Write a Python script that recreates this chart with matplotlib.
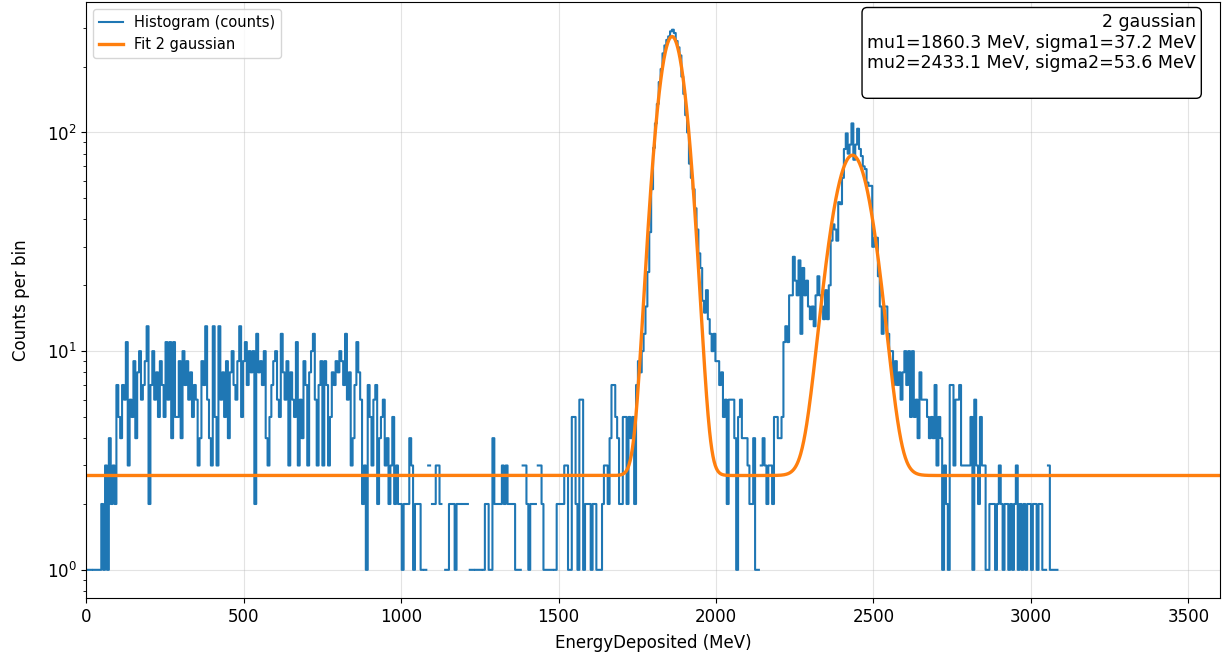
"""
Energy deposition spectrum with a two-gaussian fit.

Draws the per-bin counts as a step histogram on a log scale and overlays
the fitted model (flat background + two gaussian peaks).

Output:
    out.png
"""

import numpy as np
import matplotlib
matplotlib.use("Agg")
import matplotlib.pyplot as plt

OUT_PATH = "out.png"

# Histogram binning (MeV)
BIN_WIDTH = 6.0

# Counts per bin, split by energy region (0 = empty bin)
COUNTS_LOW = [
    1, 1, 1, 0, 1, 1, 1,
    1, 2, 1, 3, 1, 4, 2, 3, 2, 7, 5, 4, 7, 6, 11, 3, 6, 5, 9, 4,
    8, 10, 6, 7, 9, 13, 2, 7, 10, 6, 8, 5, 9, 7, 5, 11, 6, 11, 4, 11, 5,
    5, 9, 4, 10, 7, 9, 6, 8, 5, 7, 6, 3, 4, 9, 7, 13, 6, 4, 3, 13,
    5, 3, 13, 6, 8, 5, 9, 4, 8, 10, 7, 6, 9, 13, 5, 9, 11, 7, 10, 8,
    10, 2, 12, 8,
    9, 7, 10, 4, 3, 5, 7, 9, 10, 6, 5, 12, 8, 6, 9, 3, 8, 6, 5, 11,
    3, 6, 4, 9, 7, 3, 8, 10, 12, 6, 3, 7, 9, 3, 9, 7, 3, 5, 8, 7,
    9, 8, 10,
    9, 7, 12, 6, 8, 3, 4, 7, 11, 8, 6, 2, 3, 1, 7, 5, 3, 6, 7, 2,
    4, 5, 6, 3, 4, 2, 3, 5, 2, 3, 2, 2, 1, 2, 0, 2, 4, 3, 1, 2,
    0, 2, 1, 0,
]
COUNTS_GAP = [
    1, 0, 3, 0, 2, 2, 3, 3, 2, 0, 0, 1, 1, 2, 2, 2, 1, 2, 2, 0,
    2, 0, 2, 0, 1, 1, 0, 1, 1, 1, 0, 1, 2, 2, 1, 1, 4, 2, 2, 0,
    2, 3, 2,
    3, 2, 2, 2, 2, 1, 1, 1, 0, 3, 3, 2, 1, 2, 2, 2, 0, 3, 3, 2,
    1, 1, 1, 1, 1, 0, 1, 2, 2, 2, 2, 3, 3, 1, 1, 5, 5, 2, 1, 6,
    6, 1, 2, 2,
]
COUNTS_PEAK1 = [
    2, 1, 2, 2, 1, 1, 1, 2, 3, 3, 2, 4, 7, 7, 5, 4, 2, 2, 5, 5,
    2, 5, 4, 5, 2, 7, 9, 8, 10, 12, 16, 23, 35, 55, 85, 110, 135, 170, 195, 230,
    250, 265,
    275, 290, 295, 285, 262, 245, 225, 180, 150, 120,
    100, 72, 62, 55, 45, 36, 28, 24, 17, 15,
    19, 14, 12, 10, 12, 9, 9, 7, 8, 5, 6, 2, 6, 6, 6, 4, 1, 5, 6, 4,
    4, 4,
]
COUNTS_PEAK2 = [
    3, 2, 2, 4, 1, 1, 0, 3, 4, 3, 2, 3, 3, 2, 5, 5, 4, 4, 5, 11,
    13, 11, 18, 18, 27, 21, 18, 26, 12, 24, 18, 21, 16, 14, 16, 13, 18, 22, 18, 16,
    14, 19, 14, 20,
    32, 38, 36, 32, 48, 47, 62, 84, 99, 80, 88, 110, 75, 88, 104, 84, 78, 70, 68, 59,
    57, 57, 30, 33, 33, 22, 16, 12, 16, 16, 12, 10, 10, 7, 9, 7, 8, 6, 8, 10,
    7, 10, 5,
]
COUNTS_TAIL = [
    10, 5, 6, 4, 8, 6, 6, 6, 5, 4, 5, 4, 7, 3, 5, 4, 1, 3, 2, 1,
    7, 7, 3, 6, 6, 7, 3, 3, 3, 3, 3, 5, 1, 6, 3, 2, 5, 3, 3, 1,
    1, 2, 2,
    2, 1, 2, 3, 2, 1, 2, 2, 1, 2, 1, 2, 3, 1, 2, 1, 2, 1, 2, 2,
    1, 2, 2, 1, 2, 2, 1, 1, 0, 3, 1, 1, 1, 1,
]

# Fit result: flat background + two gaussians
FIT_BACKGROUND = 2.7
FIT_AMPLITUDES = [272.0, 76.0]
FIT_MEANS = [1860.3, 2433.1]
FIT_SIGMAS = [37.2, 53.6]

X_RANGE = (0, 3600)


def two_gaussian(x: np.ndarray) -> np.ndarray:
    """Evaluate the fitted model at x (MeV)."""
    y = np.full_like(x, FIT_BACKGROUND, dtype=float)
    for amp, mu, sigma in zip(FIT_AMPLITUDES, FIT_MEANS, FIT_SIGMAS):
        y += amp * np.exp(-0.5 * ((x - mu) / sigma) ** 2)
    return y


def plot_spectrum(out_path: str) -> None:
    counts = np.array(COUNTS_LOW + COUNTS_GAP + COUNTS_PEAK1 + COUNTS_PEAK2 + COUNTS_TAIL,
                      dtype=float)
    edges = np.arange(len(counts) + 1) * BIN_WIDTH

    # Empty bins can't be shown on a log axis -> leave gaps
    counts[counts <= 0] = np.nan
    y_step = np.append(counts, counts[-1])

    fig, ax = plt.subplots(figsize=(12.31, 6.62), dpi=100)

    ax.step(edges, y_step, where="post", color="#1f77b4", lw=1.5,
            label="Histogram (counts)")

    x_fit = np.linspace(X_RANGE[0], X_RANGE[1], 3000)
    ax.plot(x_fit, two_gaussian(x_fit), color="#ff7f0e", lw=2.4,
            label="Fit 2 gaussian")

    ax.set_yscale("log")
    ax.set_xlim(*X_RANGE)
    ax.set_ylim(0.745, 395)
    ax.set_xlabel("EnergyDeposited (MeV)", fontsize=12, labelpad=6)
    ax.set_ylabel("Counts per bin", fontsize=12, labelpad=12)
    ax.tick_params(axis="both", which="major", labelsize=12)
    ax.grid(True, which="major", color="#b0b0b0", alpha=0.35, lw=0.8)

    ax.legend(loc="upper left", fontsize=10.5, handlelength=1.6)

    # trailing newline leaves a blank row at the bottom of the box
    info = (
        "2 gaussian\n"
        f"mu1={FIT_MEANS[0]:.1f} MeV, sigma1={FIT_SIGMAS[0]:.1f} MeV\n"
        f"mu2={FIT_MEANS[1]:.1f} MeV, sigma2={FIT_SIGMAS[1]:.1f} MeV\n"
    )
    ax.text(0.979, 0.982, info, transform=ax.transAxes, ha="right", va="top",
            multialignment="right", fontsize=12.5,
            bbox=dict(boxstyle="round,pad=0.3", facecolor="white", edgecolor="black"))

    fig.subplots_adjust(left=0.07, right=0.991, top=0.997, bottom=0.097)
    fig.savefig(out_path, dpi=100)
    plt.close(fig)


def main() -> None:
    plot_spectrum(OUT_PATH)


if __name__ == "__main__":
    main()
